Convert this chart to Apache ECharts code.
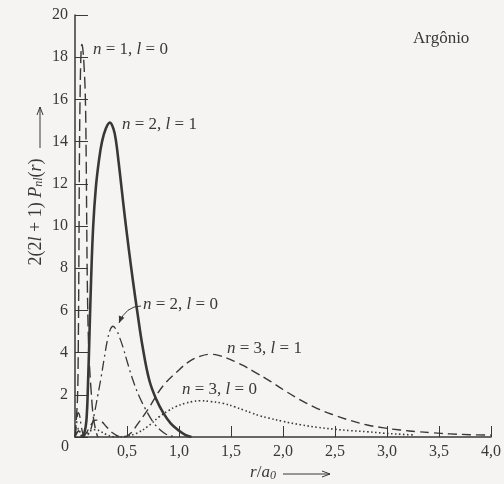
<!DOCTYPE html>
<html>
<head>
<meta charset="utf-8">
<script src="https://cdn.jsdelivr.net/npm/echarts/dist/echarts.min.js"></script>
<style>
html,body{margin:0;padding:0;background:#f5f4f2;}
#c{width:504px;height:484px;}
</style>
</head>
<body>
<div id="c"></div>
<script>
// ---- data ----
const xTickLabels = ['0', '0,5', '1,0', '1,5', '2,0', '2,5', '3,0', '3,5', '4,0'];
const yTickLabels = ['0', '2', '4', '6', '8', '10', '12', '14', '16', '18', '20'];
const seriesNames = ['n = 1, l = 0', 'n = 2, l = 1', 'n = 2, l = 0', 'n = 3, l = 1', 'n = 3, l = 0'];

const r1s = [0, 0.012, 0.025, 0.032, 0.038, 0.043, 0.05, 0.058, 0.066, 0.075, 0.088, 0.1, 0.108, 0.113, 0.118, 0.127, 0.138, 0.155, 0.175, 0.2, 0.22];
const p1s = [0, 0.8, 2, 4.5, 9, 13.5, 16.5, 18.2, 18.6, 18.4, 17.5, 16, 13, 10, 7.5, 5, 3.5, 2.2, 1, 0.3, 0];

const r2p = [0.06, 0.09, 0.11, 0.125, 0.14, 0.155, 0.175, 0.2, 0.23, 0.26, 0.295, 0.335, 0.37, 0.395, 0.42, 0.45, 0.48, 0.52, 0.556, 0.6, 0.65, 0.714, 0.78, 0.85, 0.92, 1.0, 1.06, 1.12];
const p2p = [0, 0.2, 0.8, 2.5, 5, 7.5, 10, 11.8, 13.1, 14.0, 14.6, 14.9, 14.6, 14.0, 13.0, 11.7, 10.4, 8.8, 7.44, 5.9, 4.28, 2.7, 1.8, 1.13, 0.65, 0.3, 0.1, 0];

const r2s = [0, 0.015, 0.03, 0.045, 0.06, 0.08, 0.1, 0.13, 0.16, 0.19, 0.22, 0.25, 0.28, 0.31, 0.34, 0.365, 0.4, 0.43, 0.46, 0.5, 0.56, 0.62, 0.7, 0.76, 0.82, 0.88, 0.95];
const p2s = [0, 0.6, 1.15, 1.0, 0.5, 0.1, 0, 0.15, 0.5, 1.2, 2.0, 2.8, 3.7, 4.55, 5.1, 5.25, 5.05, 4.7, 4.28, 3.6, 2.65, 1.9, 1.12, 0.65, 0.33, 0.12, 0.02];

const r3p = [0, 0.02, 0.035, 0.05, 0.08, 0.11, 0.15, 0.2, 0.25, 0.3, 0.36, 0.42, 0.47, 0.54, 0.6, 0.7, 0.84, 1.0, 1.1, 1.2, 1.3, 1.38, 1.46, 1.54, 1.62, 1.72, 1.86, 2.0, 2.17, 2.33, 2.49, 2.65, 2.81, 2.97, 3.13, 3.3, 3.44, 3.6, 3.8, 4.0];
const p3p = [0, 0.2, 0.3, 0.15, 0.05, 0.2, 0.55, 0.8, 0.75, 0.5, 0.2, 0.03, 0, 0.2, 0.6, 1.3, 2.38, 3.18, 3.58, 3.82, 3.92, 3.87, 3.74, 3.57, 3.38, 3.1, 2.7, 2.25, 1.75, 1.35, 1.04, 0.78, 0.57, 0.43, 0.33, 0.25, 0.2, 0.15, 0.11, 0.09];

const r3s = [0, 0.02, 0.035, 0.05, 0.07, 0.1, 0.15, 0.2, 0.25, 0.3, 0.36, 0.42, 0.5, 0.59, 0.7, 0.81, 0.9, 0.97, 1.06, 1.13, 1.2, 1.3, 1.42, 1.54, 1.62, 1.7, 1.78, 1.86, 2.0, 2.17, 2.33, 2.49, 2.65, 2.81, 2.97, 3.13, 3.25];
const p3s = [0, 0.3, 0.4, 0.2, 0.02, 0.1, 0.3, 0.35, 0.25, 0.12, 0.02, 0, 0.05, 0.17, 0.5, 0.96, 1.25, 1.44, 1.6, 1.68, 1.72, 1.68, 1.6, 1.42, 1.28, 1.14, 1.0, 0.9, 0.74, 0.58, 0.46, 0.37, 0.3, 0.25, 0.18, 0.13, 0.1];

// ---- chart ----
const INK = '#3b3737';
const FONT = '"Liberation Serif", "DejaVu Serif", serif';
const zip = (a, b) => a.map((v, i) => [v, b[i]]);
const mkRich = (size) => ({
  i: { fontStyle: 'italic', fontFamily: FONT, fontSize: size, color: INK },
  s: { fontStyle: 'italic', fontFamily: FONT, fontSize: Math.round(size * 0.68), color: INK, verticalAlign: 'bottom', lineHeight: 12 }
});
const toRich = name => name.replace(/\b([nl])\b/g, '{i|$1}');

const chart = echarts.init(document.getElementById('c'), null, { renderer: 'canvas' });

function mkSeries(name, data, lineStyle) {
  return {
    name, type: 'line', data, smooth: 0.4, showSymbol: false, symbol: 'none',
    lineStyle: Object.assign({ color: INK, width: 1.4, join: 'round' }, lineStyle),
    z: 3
  };
}

function labelText(x, y, name) {
  return {
    type: 'text', x, y,
    style: {
      text: toRich(name), fill: INK, font: '17px ' + FONT,
      verticalAlign: 'middle', align: 'left', rich: mkRich(17)
    }
  };
}

const option = {
  backgroundColor: '#f5f4f2',
  animation: false,
  grid: { left: 75, right: 9, top: 15, bottom: 47 },
  xAxis: {
    type: 'value', min: 0, max: 4, interval: 0.5,
    axisLine: { lineStyle: { color: INK, width: 1.5 } },
    axisTick: { inside: true, length: 11, lineStyle: { color: INK, width: 1 } },
    splitLine: { show: false },
    axisLabel: {
      color: INK, fontFamily: FONT, fontSize: 16, margin: 7,
      formatter: v => { const i = Math.round(v / 0.5); return i === 0 ? '' : xTickLabels[i]; }
    }
  },
  yAxis: {
    type: 'value', min: 0, max: 20, interval: 2,
    axisLine: { show: true, lineStyle: { color: INK, width: 1.5 } },
    axisTick: { show: true, inside: true, length: 13, lineStyle: { color: INK, width: 1 } },
    splitLine: { show: false },
    axisLabel: {
      color: INK, fontFamily: FONT, fontSize: 16, margin: 7,
      formatter: v => { const i = Math.round(v / 2); return i === 0 ? '' : yTickLabels[i]; }
    }
  },
  series: [
    mkSeries(seriesNames[0], zip(r1s, p1s), { type: [12, 5], width: 1.4 }),
    mkSeries(seriesNames[1], zip(r2p, p2p), { type: 'solid', width: 2.6 }),
    mkSeries(seriesNames[2], zip(r2s, p2s), { type: [10, 4, 2, 4], width: 1.3 }),
    mkSeries(seriesNames[3], zip(r3p, p3p), { type: [9, 5], width: 1.4 }),
    mkSeries(seriesNames[4], zip(r3s, p3s), { type: [1.5, 2.5], width: 1.6 })
  ],
  graphic: [
    labelText(93, 50, seriesNames[0]),
    labelText(122, 125, seriesNames[1]),
    labelText(143, 305, seriesNames[2]),
    labelText(227, 349, seriesNames[3]),
    labelText(182, 390, seriesNames[4]),
    {
      type: 'text', x: 413, y: 39,
      style: { text: 'Argônio', fill: INK, font: '17px ' + FONT, verticalAlign: 'middle', align: 'left' }
    },
    {
      type: 'text', x: 65, y: 447,
      style: { text: yTickLabels[0], fill: INK, font: '16px ' + FONT, verticalAlign: 'middle', align: 'center' }
    },
    // y axis title
    {
      type: 'text', x: 36, y: 212, rotation: Math.PI / 2,
      style: {
        text: '2(2{i|l} + 1) {i|P}{s|nl}({i|r})', fill: INK, font: '18px ' + FONT,
        align: 'center', verticalAlign: 'middle', rich: mkRich(18)
      }
    },
    { type: 'line', shape: { x1: 40, y1: 148, x2: 40, y2: 107 }, style: { stroke: INK, lineWidth: 1 } },
    { type: 'polyline', shape: { points: [[37, 115], [40, 107], [43, 115]] }, style: { stroke: INK, lineWidth: 1, fill: null } },
    // x axis title
    {
      type: 'text', x: 263, y: 473,
      style: {
        text: '{i|r}/{i|a}{s|0}', fill: INK, font: '17px ' + FONT,
        align: 'center', verticalAlign: 'middle', rich: mkRich(17)
      }
    },
    { type: 'line', shape: { x1: 283, y1: 474, x2: 330, y2: 474 }, style: { stroke: INK, lineWidth: 1 } },
    { type: 'polyline', shape: { points: [[322, 471], [330, 474], [322, 477]] }, style: { stroke: INK, lineWidth: 1, fill: null } },
    // pointer arrow for n=2, l=0
    { type: 'bezierCurve', shape: { x1: 141, y1: 306, cpx1: 126, cpy1: 306, x2: 119, y2: 323 }, style: { stroke: INK, lineWidth: 1, fill: null } },
    { type: 'polygon', shape: { points: [[119, 323], [124.4, 317.7], [118.9, 315.5]] }, style: { fill: INK } }
  ]
};
chart.setOption(option);
</script>
</body>
</html>
